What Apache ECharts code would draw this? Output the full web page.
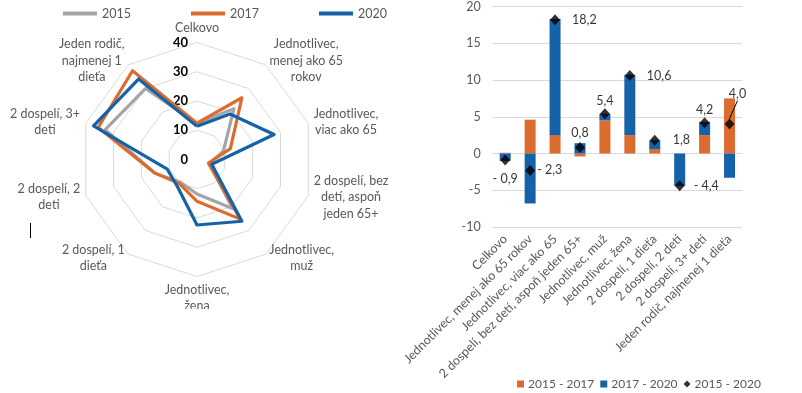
<!DOCTYPE html>
<html><head><meta charset="utf-8">
<script src="https://cdn.jsdelivr.net/npm/echarts@6/dist/echarts.min.js"></script>
<style>
html,body{margin:0;padding:0;background:#fff;width:802px;height:393px;overflow:hidden;}
#radar{position:absolute;left:0;top:0;width:400px;height:309px;overflow:hidden;}
#bars{position:absolute;left:400px;top:0;width:402px;height:393px;overflow:hidden;}
</style></head><body>
<div id="radar"></div><div id="bars"></div>
<script>
// ---------- data ----------
const categories = ['Celkovo','Jednotlivec, menej ako 65 rokov','Jednotlivec, viac ako 65','2 dospelí, bez detí, aspoň jeden 65+','Jednotlivec, muž','Jednotlivec, žena','2 dospelí, 1 dieťa','2 dospelí, 2 deti','2 dospelí, 3+ deti','Jeden rodič, najmenej 1 dieťa'];
const radarLabels = ['Celkovo','Jednotlivec,\nmenej ako 65\nrokov','Jednotlivec,\nviac ako 65','2 dospelí, bez\ndetí, aspoň\njeden 65+','Jednotlivec,\nmuž','Jednotlivec,\nžena','2 dospelí, 1\ndieťa','2 dospelí, 2\ndeti','2 dospelí, 3+\ndeti','Jeden rodič,\nnajmenej 1\ndieťa'];
const years = ['2015','2017','2020'];
const y2015 = [12.3, 21.5, 9.5, 4.5, 20.7, 11.8, 9.6, 15.1, 33.0, 30.0];
const y2017 = [12.4, 26.1, 12.0, 4.1, 25.2, 14.3, 10.2, 15.1, 35.5, 37.5];
const y2020 = [11.4, 19.2, 27.7, 5.3, 26.1, 22.4, 11.4, 10.7, 37.2, 34.0];
const radarTicks = [0, 40, 10];   // min, max, step
const changeNames = ['2015 - 2017','2017 - 2020','2015 - 2020'];
const change1517 = [0.1, 4.6, 2.5, -0.4, 4.5, 2.5, 0.6, 0.0, 2.5, 7.5];
const change1720 = [-1.0, -6.8, 15.8, 1.4, 0.9, 8.2, 1.2, -4.4, 1.8, -3.3];
const change1520 = [-0.9, -2.3, 18.2, 0.8, 5.4, 10.6, 1.8, -4.4, 4.2, 4.0];
const barTicks = [-10, 20, 5];

// ---------- style ----------
const FONT = 'Lato';
const TXT = '#595959';
const C15 = '#A5A5A5', C17 = '#DC6B2F', C20 = '#1562A8';
const GRID = '#D9D9D9';

const ctx = document.createElement('canvas').getContext('2d');
function tw(s, size){ ctx.font = size + 'px ' + FONT; return ctx.measureText(s).width; }

// ECharts radar runs counter-clockwise; reference runs clockwise
const order = [0].concat(categories.map((_, i) => i).slice(1).reverse());
const NAME_SIZE = 12.5;
const rich = {};
radarLabels.forEach((l, i) => {
  const w = Math.max.apply(null, l.split('\n').map(s => tw(s, NAME_SIZE)));
  rich['n' + i] = { width: Math.ceil(w) + 1, align: 'center', color: TXT, fontSize: NAME_SIZE, fontFamily: FONT, lineHeight: 16.5 };
});

const radarChart = echarts.init(document.getElementById('radar'));
radarChart.setOption({
  animation: false,
  textStyle: { fontFamily: FONT },
  legend: {
    data: years, left: 58, top: 2, icon: 'rect', itemWidth: 34, itemHeight: 4, itemGap: 60,
    textStyle: { color: TXT, fontSize: 12.5, fontFamily: FONT }
  },
  radar: {
    center: [197, 159.5], radius: 117, startAngle: 90, shape: 'polygon', splitNumber: 4,
    indicator: order.map((i, k) => ({ name: radarLabels[i], min: radarTicks[0], max: radarTicks[1], axisLabel: { show: k === 0 } })),
    nameGap: 5,
    axisName: {
      color: TXT, fontSize: NAME_SIZE, fontFamily: FONT, lineHeight: 16.5,
      formatter: function (name) {
        const i = radarLabels.indexOf(name);
        return name.split('\n').map(s => '{n' + i + '|' + s + '}').join('\n');
      },
      rich: rich
    },
    splitLine: { lineStyle: { color: GRID, width: 1 } },
    splitArea: { show: false },
    axisLine: { show: false },
    axisTick: { show: false },
    axisLabel: { show: false, color: '#000', fontWeight: 'bold', fontSize: 13, fontFamily: FONT, margin: 9 }
  },
  series: [{
    type: 'radar', symbol: 'none',
    data: [
      { name: years[0], value: order.map(i => y2015[i]), lineStyle: { color: C15, width: 3.2 }, itemStyle: { color: C15 } },
      { name: years[1], value: order.map(i => y2017[i]), lineStyle: { color: C17, width: 3.2 }, itemStyle: { color: C17 } },
      { name: years[2], value: order.map(i => y2020[i]), lineStyle: { color: C20, width: 3.2 }, itemStyle: { color: C20 } }
    ]
  }],
  graphic: [{ type: 'line', shape: { x1: 30.5, y1: 223, x2: 30.5, y2: 238 }, style: { stroke: '#000', lineWidth: 1 } }]
});

function fmt(v){ const s = Math.abs(v).toFixed(1).replace('.', ','); return v < 0 ? '- ' + s : s; }

// label placement for the 2015-2020 markers (style only)
const markerLabel = [
  { position: 'bottom', distance: 7 },
  { position: 'right', distance: 2, offset: [0, 15] },
  { position: 'right', distance: 12 },
  { position: 'top', distance: 3, offset: [6, 0] },
  { position: 'top', distance: 1, offset: [4, 0] },
  { position: 'right', distance: 12 },
  { position: 'right', distance: 13 },
  { position: 'right', distance: 9 },
  { position: 'top', distance: 1, offset: [-4, 0] },
  { position: 'top', distance: 1 }
];

const barChart = echarts.init(document.getElementById('bars'));
barChart.setOption({
  animation: false,
  textStyle: { fontFamily: FONT },
  grid: { left: 75, right: 60, top: 5, bottom: 166 },
  legend: {
    data: [{ name: changeNames[0], icon: 'rect' }, { name: changeNames[1], icon: 'rect' }, { name: changeNames[2], icon: 'diamond' }],
    left: 112, top: 373, itemWidth: 7, itemHeight: 7, itemGap: 6,
    textStyle: { color: TXT, fontSize: 12, fontFamily: FONT, padding: [0, 0, 0, -1] }
  },
  xAxis: {
    type: 'category', data: categories,
    axisLine: { show: false }, axisTick: { show: false },
    axisLabel: { rotate: 45, interval: 0, color: TXT, fontSize: 12.5, fontFamily: FONT, margin: 10 }
  },
  yAxis: {
    type: 'value', min: barTicks[0], max: barTicks[1], interval: barTicks[2],
    axisLabel: { color: TXT, fontSize: 12.5, fontFamily: FONT, margin: 12 },
    splitLine: { lineStyle: { color: GRID, width: 1 } },
    axisLine: { show: false }, axisTick: { show: false }
  },
  series: [
    { name: changeNames[0], type: 'bar', stack: 'chg', data: change1517, barWidth: 11, itemStyle: { color: C17 } },
    { name: changeNames[1], type: 'bar', stack: 'chg', data: change1720, barWidth: 11, itemStyle: { color: C20 } },
    {
      name: changeNames[2], type: 'scatter', symbol: 'diamond', symbolSize: [10, 11], z: 5,
      itemStyle: { color: '#000' },
      label: { show: true, color: '#000', fontSize: 12.5, fontFamily: FONT, formatter: p => fmt(p.value) },
      labelLayout: function (p) { return p.dataIndex === 9 ? { dx: 8, dy: -17 } : {}; },
      data: change1520.map((v, i) => {
        const item = { value: v, label: markerLabel[i] };
        if (i === 9) item.labelLine = { show: true, length2: 0, lineStyle: { color: '#000', width: 1 } };
        return item;
      })
    }
  ]
});
</script>
</body></html>
